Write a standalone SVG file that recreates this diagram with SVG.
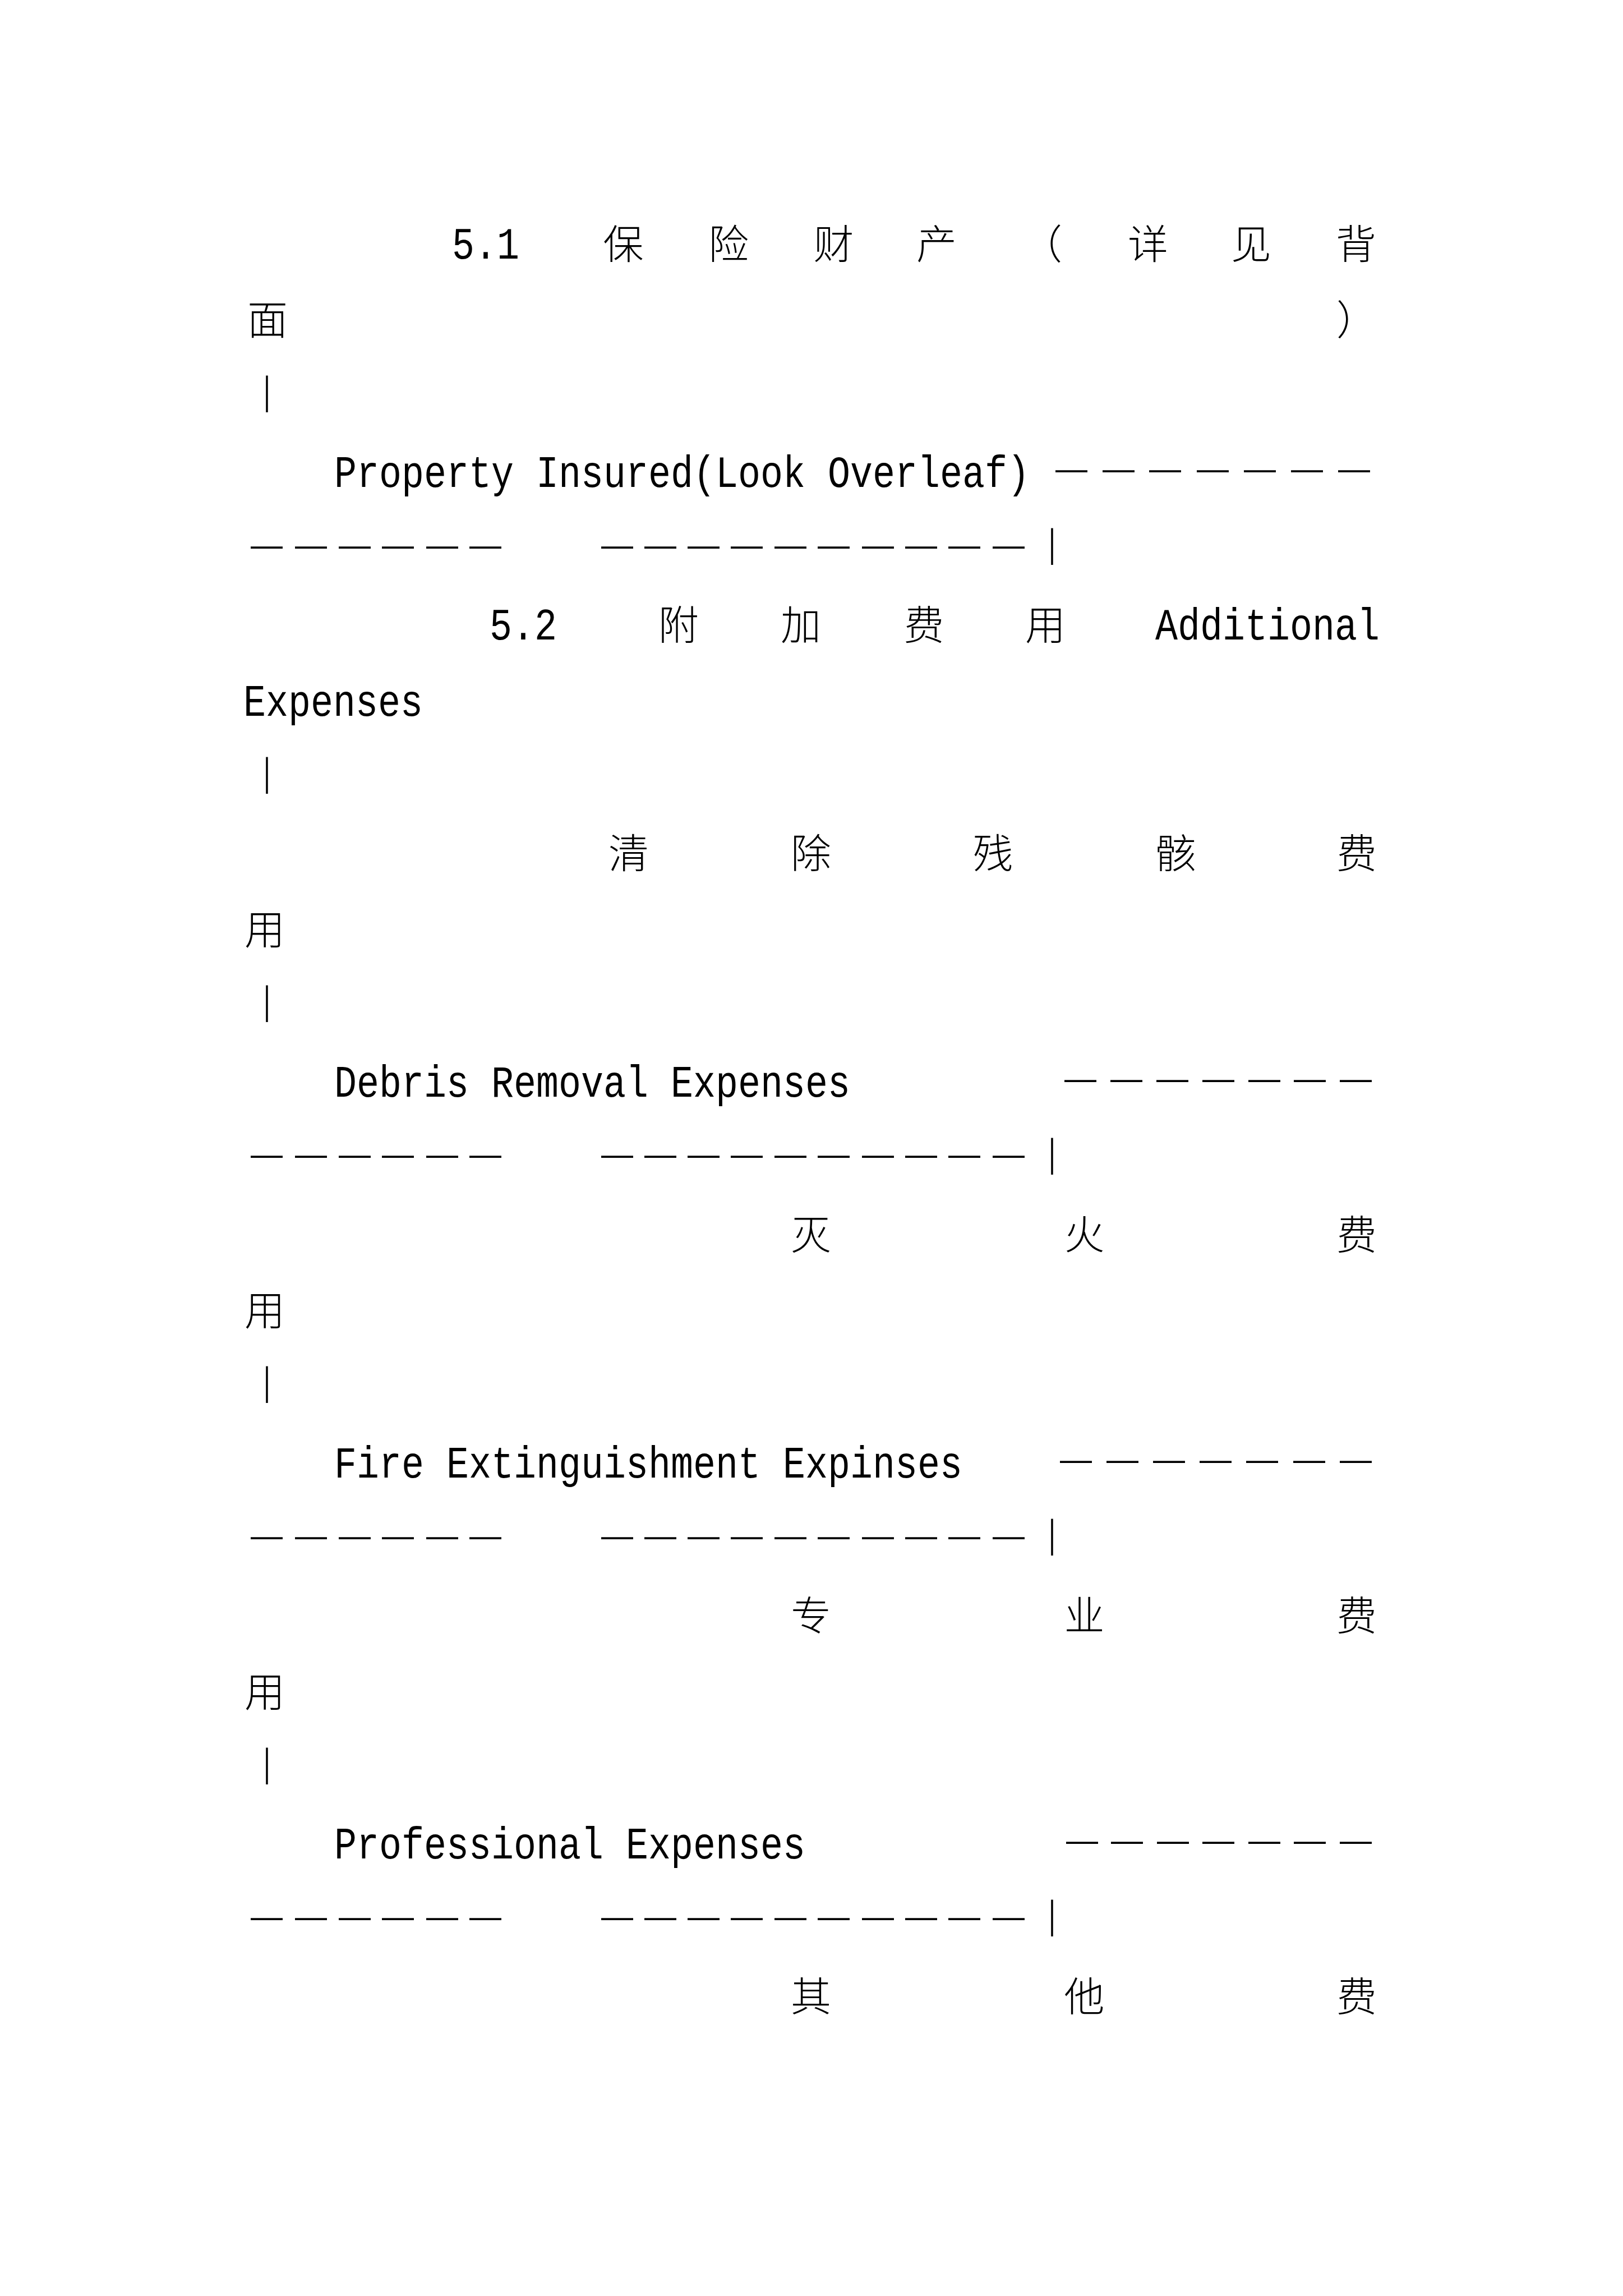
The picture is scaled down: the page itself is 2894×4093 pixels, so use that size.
<svg xmlns="http://www.w3.org/2000/svg" width="2894" height="4093" viewBox="0 0 2894 4093">
<style>
text { fill: #000; }
.cjk { font-family: "Noto Sans CJK SC", "Noto Sans CJK TC", sans-serif; font-size: 72px; font-weight: 300; text-anchor: middle; }
.lat { font-family: "Liberation Mono", "DejaVu Sans Mono", monospace; font-size: 66.67px; }
.dash { font-family: "Liberation Sans", "Noto Sans", sans-serif; font-size: 57px; }
.bar { font-family: "Liberation Serif", serif; font-size: 72px; text-anchor: middle; }
</style>
<rect x="0" y="0" width="2894" height="4093" fill="#ffffff"/>

<g id="row1">
  <text class="lat" transform="translate(806 460.5) scale(1 1.2)">5.1</text>
  <text class="cjk" x="1111.5 1299 1486.5 1670 1858 2047 2231 2418" y="460.5">保险财产（详见背</text>
</g>
<g id="row2">
  <text class="cjk" x="477" y="596.4">面</text>
  <text class="cjk" x="2419" y="596.4">）</text>
</g>
<g id="row3"><text class="bar" x="476" y="720">|</text></g>

<g id="row4">
  <text class="lat" transform="translate(596 868.1) scale(1 1.2)">Property Insured(Look Overleaf)</text>
  <text class="dash" x="1882 1966 2049 2134 2218 2302 2386" y="854.7">———————</text>
</g>
<g id="row5">
  <text class="dash" x="447 526 604 681 760 837" y="990.5">——————</text>
  <text class="dash" x="1072 1149 1226 1303 1381 1458 1537 1614 1691 1770" y="990.5">——————————</text>
  <text class="bar" x="1876" y="992">|</text>
</g>

<g id="row6">
  <text class="lat" transform="translate(873 1139.8) scale(1 1.2)">5.2</text>
  <text class="cjk" x="1210 1428 1647.5 1864" y="1139.8">附加费用</text>
  <text class="lat" transform="translate(2060 1139.8) scale(1 1.2)">Additional</text>
</g>
<g id="row7">
  <text class="lat" transform="translate(434 1275.6) scale(1 1.2)">Expenses</text>
</g>
<g id="row8"><text class="bar" x="476" y="1399.5">|</text></g>

<g id="row9">
  <text class="cjk" x="1121 1446 1770.5 2096.5 2419" y="1547.3">清除残骸费</text>
</g>
<g id="row10"><text class="cjk" x="472" y="1683.2">用</text></g>
<g id="row11"><text class="bar" x="476" y="1807">|</text></g>

<g id="row12">
  <text class="lat" transform="translate(596 1954.9) scale(1 1.2)">Debris Removal Expenses</text>
  <text class="dash" x="1898 1980 2062 2144 2226 2307 2389" y="1941.5">———————</text>
</g>
<g id="row13">
  <text class="dash" x="447 526 604 681 760 837" y="2077.3">——————</text>
  <text class="dash" x="1072 1149 1226 1303 1381 1458 1537 1614 1691 1770" y="2077.3">——————————</text>
  <text class="bar" x="1876" y="2078.7">|</text>
</g>

<g id="row14">
  <text class="cjk" x="1446 1933.5 2419" y="2226.6">灭火费</text>
</g>
<g id="row15"><text class="cjk" x="472" y="2362.4">用</text></g>
<g id="row16"><text class="bar" x="476" y="2486.3">|</text></g>

<g id="row17">
  <text class="lat" transform="translate(596 2634.1) scale(1 1.2)">Fire Extinguishment Expinses</text>
  <text class="dash" x="1890 1973 2056 2139 2222 2306 2389" y="2620.7">———————</text>
</g>
<g id="row18">
  <text class="dash" x="447 526 604 681 760 837" y="2756.6">——————</text>
  <text class="dash" x="1072 1149 1226 1303 1381 1458 1537 1614 1691 1770" y="2756.6">——————————</text>
  <text class="bar" x="1876" y="2758">|</text>
</g>

<g id="row19">
  <text class="cjk" x="1446 1933.5 2419" y="2905.8">专业费</text>
</g>
<g id="row20"><text class="cjk" x="472" y="3041.7">用</text></g>
<g id="row21"><text class="bar" x="476" y="3165.5">|</text></g>

<g id="row22">
  <text class="lat" transform="translate(596 3313.4) scale(1 1.2)">Professional Expenses</text>
  <text class="dash" x="1901 1981 2063 2144 2226 2307 2389" y="3300">———————</text>
</g>
<g id="row23">
  <text class="dash" x="447 526 604 681 760 837" y="3435.8">——————</text>
  <text class="dash" x="1072 1149 1226 1303 1381 1458 1537 1614 1691 1770" y="3435.8">——————————</text>
  <text class="bar" x="1876" y="3437.2">|</text>
</g>

<g id="row24">
  <text class="cjk" x="1446 1933.5 2419" y="3585.1">其他费</text>
</g>
</svg>
